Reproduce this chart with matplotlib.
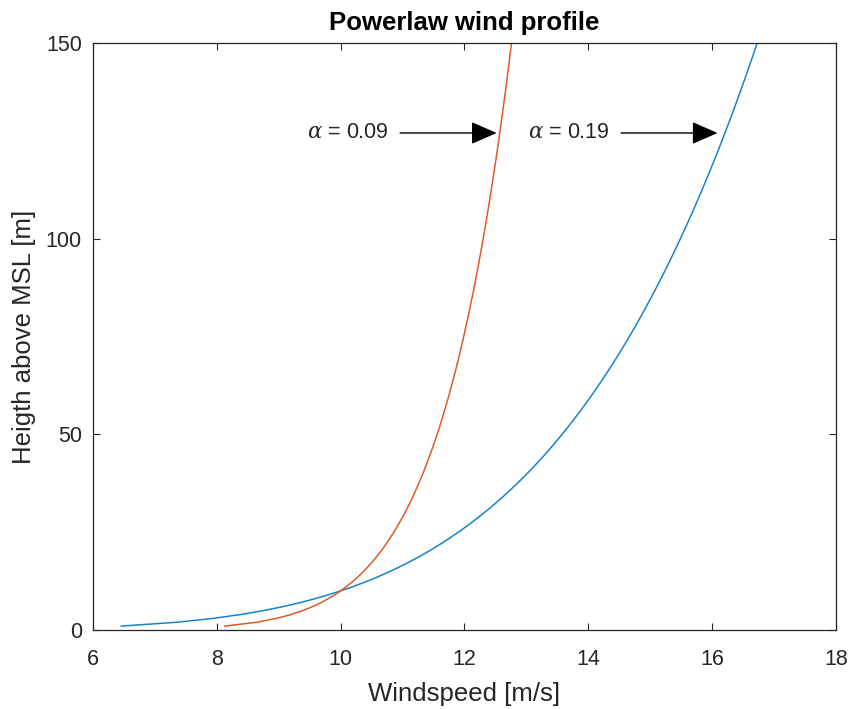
import numpy as np
import matplotlib.pyplot as plt

plt.rcParams['font.family'] = ['Liberation Sans', 'DejaVu Sans']
plt.rcParams['mathtext.fontset'] = 'dejavuserif'

# Power law parameters: u(z) = u_ref * (z / z_ref) ** alpha
u_ref = 10.0
z_ref = 10.0
alphas = [0.19, 0.09]
colors = ['#1a82cc', '#de5a2a']
heights = np.arange(1, 151)

# Arrow annotations: label start x, arrow tail x, tip offset from curve
label_x = [13.03, 9.45]
tail_x = [14.53, 10.96]
tip_offset = [0.12, 0.05]
tip_z = 127

fig = plt.figure(figsize=(8.53, 7.09), dpi=100)
ax = fig.add_axes([0.109, 0.1114, 0.871, 0.828])

for a, c in zip(alphas, colors):
    speed = u_ref * (heights / z_ref) ** a
    ax.plot(speed, heights, color=c, linewidth=1.1)

for a, lx, tx, off in zip(alphas, label_x, tail_x, tip_offset):
    tip_u = u_ref * (tip_z / z_ref) ** a - off
    ax.annotate('', xy=(tip_u, tip_z), xytext=(tx, tip_z),
                arrowprops=dict(arrowstyle='-|>,head_length=0.8,head_width=0.35',
                                color='black', lw=1.0,
                                mutation_scale=20, shrinkA=0, shrinkB=0))
    ax.text(lx, tip_z, r'$\alpha$ = %.2f' % a, ha='left', va='center',
            fontsize=15.5, color='#262626')

ax.set_xlim(6, 18)
ax.set_ylim(0, 150)
ax.set_xticks([6, 8, 10, 12, 14, 16, 18])
ax.set_yticks([0, 50, 100, 150])

ax.tick_params(direction='in', length=5, width=0.8, colors='#262626',
               labelsize=15.5, top=True, right=True)
ax.tick_params(axis='x', labeltop=False, pad=14)
ax.tick_params(axis='y', labelright=False, pad=8)
for s in ax.spines.values():
    s.set_color('#262626')
    s.set_linewidth(0.9)

ax.set_xlabel('Windspeed [m/s]', fontsize=18.5, color='#262626', labelpad=8)
ax.set_ylabel('Heigth above MSL [m]', fontsize=18.5, color='#262626', labelpad=7)
ax.set_title('Powerlaw wind profile', fontsize=18.5, fontweight='bold', pad=9)

fig.savefig('out.png', dpi=100)
